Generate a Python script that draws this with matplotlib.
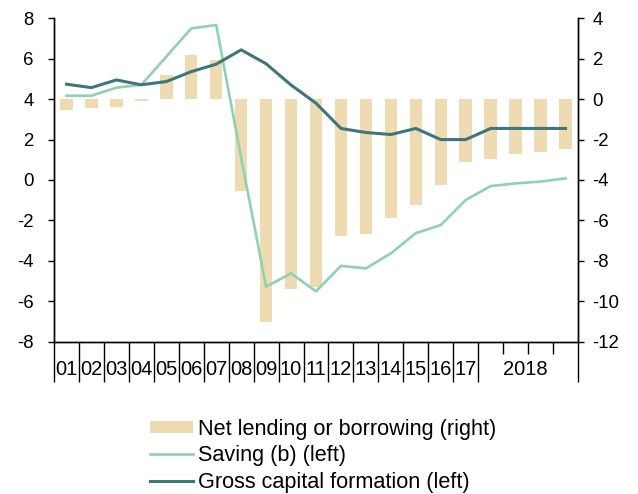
import matplotlib
matplotlib.use("Agg")
import matplotlib.pyplot as plt
import numpy as np

plt.rcParams['font.family'] = ['Liberation Sans', 'DejaVu Sans']
plt.rcParams['axes.unicode_minus'] = False

years = ["01", "02", "03", "04", "05", "06", "07", "08", "09", "10", "11",
         "12", "13", "14", "15", "16", "17"]
quarter_label = "2018"
n_quarters = 4

net_lending = [-0.53, -0.45, -0.38, -0.07, 1.19, 2.19, 1.95, -4.52, -11.04, -9.41, -9.31,
               -6.75, -6.67, -5.86, -5.25, -4.24, -3.09, -2.94, -2.69, -2.61, -2.46]
saving = [4.17, 4.17, 4.57, 4.71, 6.1, 7.5, 7.67, 1.1, -5.28, -4.62, -5.51,
          -4.25, -4.37, -3.63, -2.63, -2.23, -0.99, -0.3, -0.17, -0.08, 0.08]
gcf = [4.74, 4.57, 4.95, 4.71, 4.87, 5.36, 5.73, 6.44, 5.75, 4.7, 3.8,
       2.55, 2.35, 2.25, 2.55, 2.0, 2.0, 2.55, 2.55, 2.55, 2.55]

c_bar = "#EEDBB1"
c_sav = "#8ED2B2"
c_gcf = "#3E7679"

n = len(net_lending)
x = np.arange(n) + 0.5

fig = plt.figure(figsize=(6.38, 4.94), dpi=100)
ax = fig.add_axes([54/638, 1-341.7/494, (578-54)/638, (341.7-18.3)/494])
ax2 = ax.twinx()

ax2.bar(x, net_lending, width=0.5, color=c_bar, label="Net lending or borrowing (right)")
l1, = ax.plot(x, saving, color=c_sav, lw=1.9, label="Saving (b) (left)")
l2, = ax.plot(x, gcf, color=c_gcf, lw=2.2, label="Gross capital formation (left)")

ax.set_zorder(ax2.get_zorder() + 1)
ax.patch.set_visible(False)

ax.set_ylim(-8, 8)
ax2.set_ylim(-12, 4)
ax.set_yticks(np.arange(-8, 9, 2))
ax2.set_yticks(np.arange(-12, 5, 2))
ax.set_xlim(0, n)

for a in (ax, ax2):
    a.spines['top'].set_visible(False)
    for s in a.spines.values():
        s.set_linewidth(1.0)
ax.tick_params(axis='y', direction='out', length=4.5, width=1, labelsize=13.4, pad=10)
ax2.tick_params(axis='y', direction='out', length=4, width=1, labelsize=13.4, pad=6.5)

major = list(range(len(years) + 1)) + [n]
minor = list(range(len(years) + 1, n))
ax.set_xticks(major)
ax.set_xticklabels([])
ax.set_xticks(minor, minor=True)
ax.tick_params(axis='x', which='major', direction='out', length=29, width=1)
ax.tick_params(axis='x', which='minor', direction='out', length=8.5, width=1)
ax2.tick_params(axis='x', which='both', length=0)

for i, lab in enumerate(years):
    ax.text(i + 0.5, -0.085, lab, transform=ax.get_xaxis_transform(),
            ha='center', va='center', fontsize=14.5)
ax.text(len(years) + n_quarters / 2 - 0.1, -0.085, quarter_label, transform=ax.get_xaxis_transform(),
        ha='center', va='center', fontsize=14.5)

h1, lab1 = ax2.get_legend_handles_labels()
fig.legend(h1 + [l1, l2], lab1 + [l1.get_label(), l2.get_label()],
           loc='upper left', bbox_to_anchor=(150/638, 1-418.5/494), frameon=False,
           fontsize=15.6, handlelength=2.0, handleheight=0.48, handletextpad=0.2,
           labelspacing=0.27, borderpad=0, borderaxespad=0)

fig.savefig("out.png", dpi=100)
